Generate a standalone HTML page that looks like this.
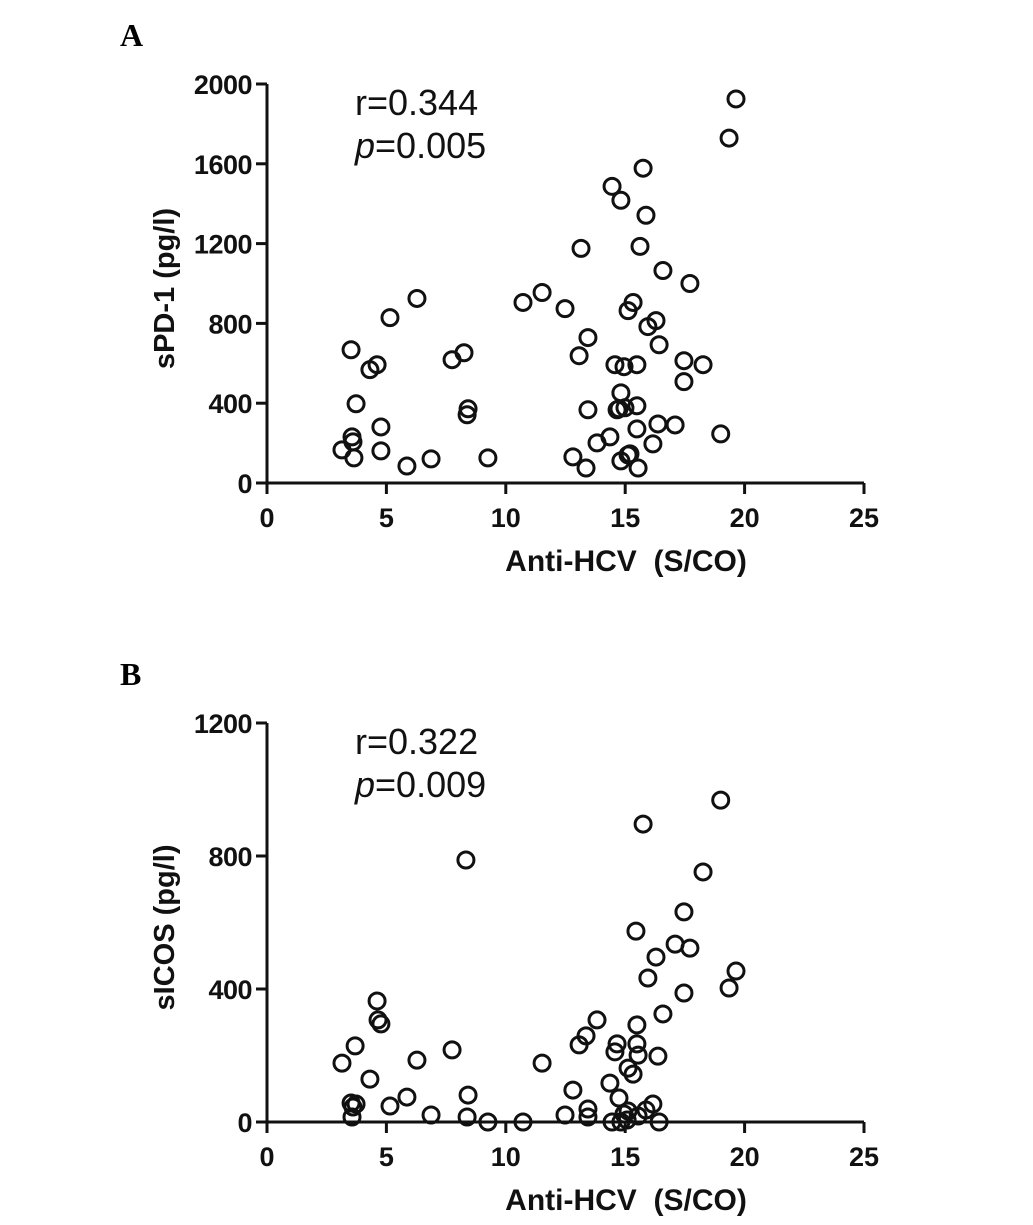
<!DOCTYPE html>
<html><head><meta charset="utf-8"><style>
html,body{margin:0;padding:0;background:#fff;}
svg{display:block;font-family:"Liberation Sans",Arial,sans-serif;}
</style></head><body>
<svg id="fig" width="1033" height="1225" viewBox="0 0 1033 1225"></svg>
<script>
const xTicks=[0,5,10,15,20,25];
const yTicksA=[0,400,800,1200,1600,2000];
const yTicksB=[0,400,800,1200];
const xA=[3.14,3.52,3.56,3.6,3.64,3.73,4.31,4.61,4.77,4.77,5.15,5.86,6.28,6.87,7.75,8.25,8.38,8.42,9.25,10.72,11.52,12.48,12.81,13.07,13.15,13.36,13.44,13.44,13.82,14.36,14.45,14.57,14.66,14.74,14.82,14.82,14.82,14.95,14.99,15.12,15.12,15.2,15.33,15.49,15.49,15.49,15.54,15.62,15.75,15.87,15.95,16.16,16.29,16.37,16.42,16.58,17.09,17.46,17.46,17.71,18.26,19.0,19.35,19.64];
const yA=[166,668,231,206,126,397,568,593,281,161,829,85,925,121,618,653,342,372,126,905,955,874,131,638,1176,75,729,367,201,231,1487,593,367,372,1417,452,111,583,377,141,864,146,905,271,593,387,75,1186,1578,1342,784,196,814,296,693,1065,291,613,508,1000,593,246,1729,1925];
const xB=[3.14,3.52,3.56,3.6,3.69,3.73,4.31,4.61,4.65,4.77,5.15,5.86,6.28,6.87,7.75,8.33,8.38,8.42,9.25,10.72,11.52,12.48,12.81,13.07,13.36,13.44,13.44,13.82,14.36,14.45,14.57,14.66,14.74,14.82,14.95,15.08,15.12,15.12,15.33,15.45,15.49,15.49,15.54,15.54,15.75,15.87,15.95,16.16,16.29,16.37,16.42,16.58,17.09,17.46,17.46,17.71,18.26,19.0,19.35,19.64];
const yB=[177,57,15,45,229,54,129,364,307,295,48,75,186,21,217,788,15,81,0,0,177,21,96,232,259,39,15,307,117,0,211,235,72,0,24,6,33,162,144,574,292,235,201,18,896,36,433,54,496,198,0,325,535,632,388,523,752,968,403,454];

const NS="http://www.w3.org/2000/svg";
const svg=document.getElementById('fig');
function mk(tag,attrs,parent){const e=document.createElementNS(NS,tag);for(const k in attrs)e.setAttribute(k,attrs[k]);(parent||svg).appendChild(e);return e;}

function panel(letter,top,y0px,ymax,yTicks,xs,ys,ytitle,rtxt,ptxt){
  const g=mk('g',{});
  
  
  const x0=267,x1=864;
  const sx=v=>x0+(v/25)*(x1-x0);
  const ytop=top;
  const sy=v=>y0px-(v/ymax)*(y0px-ytop);
  const lab=mk('text',{x:120,y:ytop-38,'font-family':'Liberation Serif,serif','font-weight':'bold','font-size':32},g);
  lab.textContent=letter;
  
  
  const ya=mk('line',{x1:x0,y1:ytop,x2:x0,y2:y0px+1.5,stroke:'#111','stroke-width':3},g);
  
  
  const xa=mk('line',{x1:x0-1.5,y1:y0px,x2:x1,y2:y0px,stroke:'#111','stroke-width':3},g);
  
  
  yTicks.forEach(t=>{
    mk('line',{x1:x0-11,y1:sy(t),x2:x0,y2:sy(t),stroke:'#111','stroke-width':3},g);
    const tx=mk('text',{x:x0-15,y:sy(t)+10,'text-anchor':'end','font-weight':'bold','font-size':27,fill:'#111','letter-spacing':'-0.5'},g);
    tx.textContent=t;
    
    
  });
  xTicks.forEach(t=>{
    mk('line',{x1:sx(t),y1:y0px,x2:sx(t),y2:y0px+11,stroke:'#111','stroke-width':3},g);
    const tx=mk('text',{x:sx(t),y:y0px+44,'text-anchor':'middle','font-weight':'bold','font-size':27,fill:'#111'},g);
    tx.textContent=t;
    
    
  });
  const xt=mk('text',{x:626,y:y0px+88,'text-anchor':'middle','font-weight':'bold','font-size':30,fill:'#111',style:'white-space:pre'},g);
  xt.textContent='Anti-HCV  (S/CO)';
  
  
  const cy=(ytop+y0px)/2+5;
  const yt=mk('text',{x:0,y:0,transform:`translate(174,${cy}) rotate(-90)`,'text-anchor':'middle','font-weight':'bold','font-size':29,fill:'#111'},g);
  yt.textContent=ytitle;
  
  
  const r=mk('text',{x:355,y:ytop+31,'font-size':36,fill:'#111'},g);
  r.textContent=rtxt;
  
  
  const p=mk('text',{x:355,y:ytop+74,'font-size':36,fill:'#111'},g);
  const pi=mk('tspan',{'font-style':'italic'},p);pi.textContent='p';
  const pr=mk('tspan',{},p);pr.textContent=ptxt;
  
  
  xs.forEach((v,i)=>{
    const c=mk('circle',{cx:sx(v),cy:sy(ys[i]),r:8,fill:'none',stroke:'#111','stroke-width':3},g);
    
    
  });
}
panel('A',84,483,2000,yTicksA,xA,yA,'sPD-1 (pg/l)','r=0.344','=0.005');
panel('B',723,1122,1200,yTicksB,xB,yB,'sICOS (pg/l)','r=0.322','=0.009');
</script>
</body></html>
